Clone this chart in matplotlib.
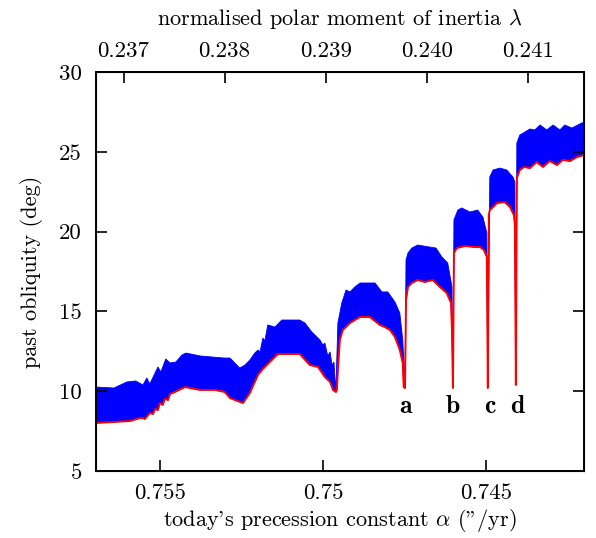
import numpy as np
import matplotlib
matplotlib.use('Agg')
import matplotlib.pyplot as plt

plt.rcParams['font.family'] = 'cmr10'
plt.rcParams['mathtext.fontset'] = 'cm'
plt.rcParams['axes.formatter.use_mathtext'] = True

# Envelope superior da obliquidade (azul)
alpha_sup = [0.75697, 0.75642, 0.75602, 0.75575, 0.75553, 0.75541, 0.75532, 0.75507,
             0.75498, 0.75483, 0.75470, 0.75452, 0.75433, 0.75421, 0.75378, 0.75305,
             0.75286, 0.75256, 0.75240, 0.75225, 0.75210, 0.75200, 0.75194, 0.75185,
             0.75179, 0.75170, 0.75148, 0.75127, 0.75072, 0.75056, 0.75035, 0.75010,
             0.75001, 0.74995, 0.74986, 0.74979, 0.74973, 0.74967, 0.74964, 0.74961,
             0.74955, 0.74943, 0.74930, 0.74918, 0.74903, 0.74887, 0.74841, 0.74820,
             0.74802, 0.74780, 0.74765, 0.74756, 0.74753, 0.74749,
             0.74746, 0.74740, 0.74728, 0.74710, 0.74673, 0.74654, 0.74636, 0.74618,
             0.74605, 0.74602,
             0.74599, 0.74587, 0.74575, 0.74550, 0.74526, 0.74510, 0.74498, 0.74495,
             0.74489, 0.74479, 0.74458, 0.74437, 0.74418, 0.74412, 0.74409,
             0.74406, 0.74397, 0.74381, 0.74366, 0.74351, 0.74335, 0.74314, 0.74295,
             0.74274, 0.74259, 0.74237, 0.74219, 0.74200]
obl_sup = [10.26, 10.20, 10.58, 10.64, 10.39, 10.83, 10.45, 11.52,
           11.20, 12.02, 11.77, 11.83, 12.27, 12.39, 12.21, 12.08,
           12.08, 11.45, 11.64, 11.95, 12.39, 12.58, 12.46, 13.33,
           13.15, 14.15, 14.02, 14.46, 14.46, 14.27, 13.71, 13.21,
           12.89, 13.02, 12.21, 12.46, 11.64, 11.83, 10.83, 10.08,
           14.27, 15.53, 16.34, 16.22, 16.53, 16.78, 16.78, 16.22,
           16.22, 15.59, 14.90, 13.21, 11.95, 10.20,
           18.22, 18.66, 18.97, 19.16, 19.03, 18.97, 18.41, 18.03,
           16.53, 10.20,
           20.73, 21.35, 21.48, 21.23, 21.35, 20.91, 19.91, 10.20,
           23.42, 23.86, 23.98, 23.86, 23.42, 23.11, 10.39,
           25.55, 26.05, 26.24, 26.43, 26.37, 26.68, 26.37, 26.68,
           26.37, 26.68, 26.49, 26.68, 26.87]

# Envelope inferior da obliquidade (vermelho)
alpha_inf = [0.75697, 0.75593, 0.75562, 0.75553, 0.75547, 0.75532, 0.75522, 0.75516,
             0.75507, 0.75501, 0.75492, 0.75486, 0.75476, 0.75470, 0.75455, 0.75424,
             0.75378, 0.75332, 0.75302, 0.75286, 0.75271, 0.75246, 0.75225, 0.75210,
             0.75200, 0.75188, 0.75179, 0.75164, 0.75139, 0.75072, 0.75041, 0.75016,
             0.74995, 0.74979, 0.74970, 0.74961,
             0.74958, 0.74955, 0.74949, 0.74940, 0.74918, 0.74903, 0.74887, 0.74857,
             0.74826, 0.74811, 0.74795, 0.74780, 0.74765, 0.74756, 0.74753, 0.74749,
             0.74746, 0.74740, 0.74728, 0.74710, 0.74688, 0.74664, 0.74642, 0.74621,
             0.74608, 0.74605, 0.74602,
             0.74599, 0.74590, 0.74565, 0.74535, 0.74519, 0.74507, 0.74498, 0.74495,
             0.74492, 0.74489, 0.74479, 0.74467, 0.74443, 0.74427, 0.74415, 0.74412,
             0.74409,
             0.74406, 0.74397, 0.74384, 0.74366, 0.74345, 0.74326, 0.74305, 0.74283,
             0.74265, 0.74243, 0.74222, 0.74200]
obl_inf = [8.01, 8.13, 8.32, 8.32, 8.26, 8.63, 8.57, 8.88,
           8.82, 9.26, 9.14, 9.51, 9.45, 9.82, 9.95, 10.26,
           10.08, 10.08, 9.95, 9.57, 9.45, 9.26, 9.89, 10.58,
           11.02, 11.33, 11.52, 11.83, 12.33, 12.33, 11.64, 11.52,
           10.89, 10.58, 10.08, 9.95,
           10.08, 11.33, 13.21, 13.83, 14.27, 14.46, 14.65, 14.65,
           14.15, 14.02, 13.83, 13.40, 12.58, 11.77, 10.26, 10.20,
           15.71, 16.53, 16.78, 16.97, 16.84, 16.97, 16.53, 16.15,
           15.53, 13.83, 10.20,
           18.66, 18.97, 19.10, 19.03, 19.03, 18.85, 18.41, 10.20,
           21.04, 21.35, 21.54, 21.79, 21.85, 21.54, 21.04, 20.41,
           10.39,
           23.36, 23.86, 24.05, 23.98, 24.36, 24.05, 24.42, 24.17,
           24.49, 24.42, 24.67, 24.80]

# Ressonancias marcadas
nomes_res = ['a', 'b', 'c', 'd']
alpha_res = [0.74749, 0.74602, 0.74489, 0.74406]
obl_res = 8.63

ticks_alpha = [0.755, 0.75, 0.745]
rotulos_alpha = ['0.755', '0.75', '0.745']
ticks_lambda = [0.237, 0.238, 0.239, 0.240, 0.241]
rotulos_lambda = ['0.237', '0.238', '0.239', '0.240', '0.241']
ticks_obl = [5, 10, 15, 20, 25, 30]

fig = plt.figure(figsize=(5.96, 5.38), dpi=100)
ax = fig.add_axes([96 / 596, 67 / 538, 488 / 596, 399 / 538])

# Faixa de obliquidade
xs = np.concatenate([alpha_sup, alpha_inf[::-1]])
ys = np.concatenate([obl_sup, obl_inf[::-1]])
ax.fill(xs, ys, color='#0000ff', lw=0.6, edgecolor='#0000ff')
ax.plot(alpha_inf, obl_inf, color='#ff0000', lw=1.4)

for nome, a in zip(nomes_res, alpha_res):
    ax.text(a, obl_res, nome, fontsize=18.5, family='cmb10', ha='center', va='baseline')

ax.set_xlim(0.75697, 0.74200)
ax.set_ylim(5, 30)
ax.set_xticks(ticks_alpha)
ax.set_xticklabels(rotulos_alpha)
ax.set_yticks(ticks_obl)
ax.set_yticklabels([str(t) for t in ticks_obl])
ax.tick_params(direction='in', length=8, width=1.2, labelsize=16.5, top=False, right=True, pad=9)
ax.tick_params(axis='y', pad=10)
for s in ax.spines.values():
    s.set_linewidth(1.4)

ax.set_xlabel("today's precession constant $\\alpha$ (\"/yr)", fontsize=16, labelpad=3)
ax.set_ylabel('past obliquity (deg)', fontsize=16, labelpad=12)

# Eixo superior: momento polar de inercia
ax2 = ax.twiny()
ax2.set_xlim(0.236728, 0.241554)
ax2.set_xticks(ticks_lambda)
ax2.set_xticklabels(rotulos_lambda)
ax2.tick_params(direction='in', length=8, width=1.2, labelsize=16.5, pad=8)
ax2.set_xlabel('normalised polar moment of inertia $\\lambda$', fontsize=16, labelpad=12)

plt.savefig('out.png', dpi=100)
